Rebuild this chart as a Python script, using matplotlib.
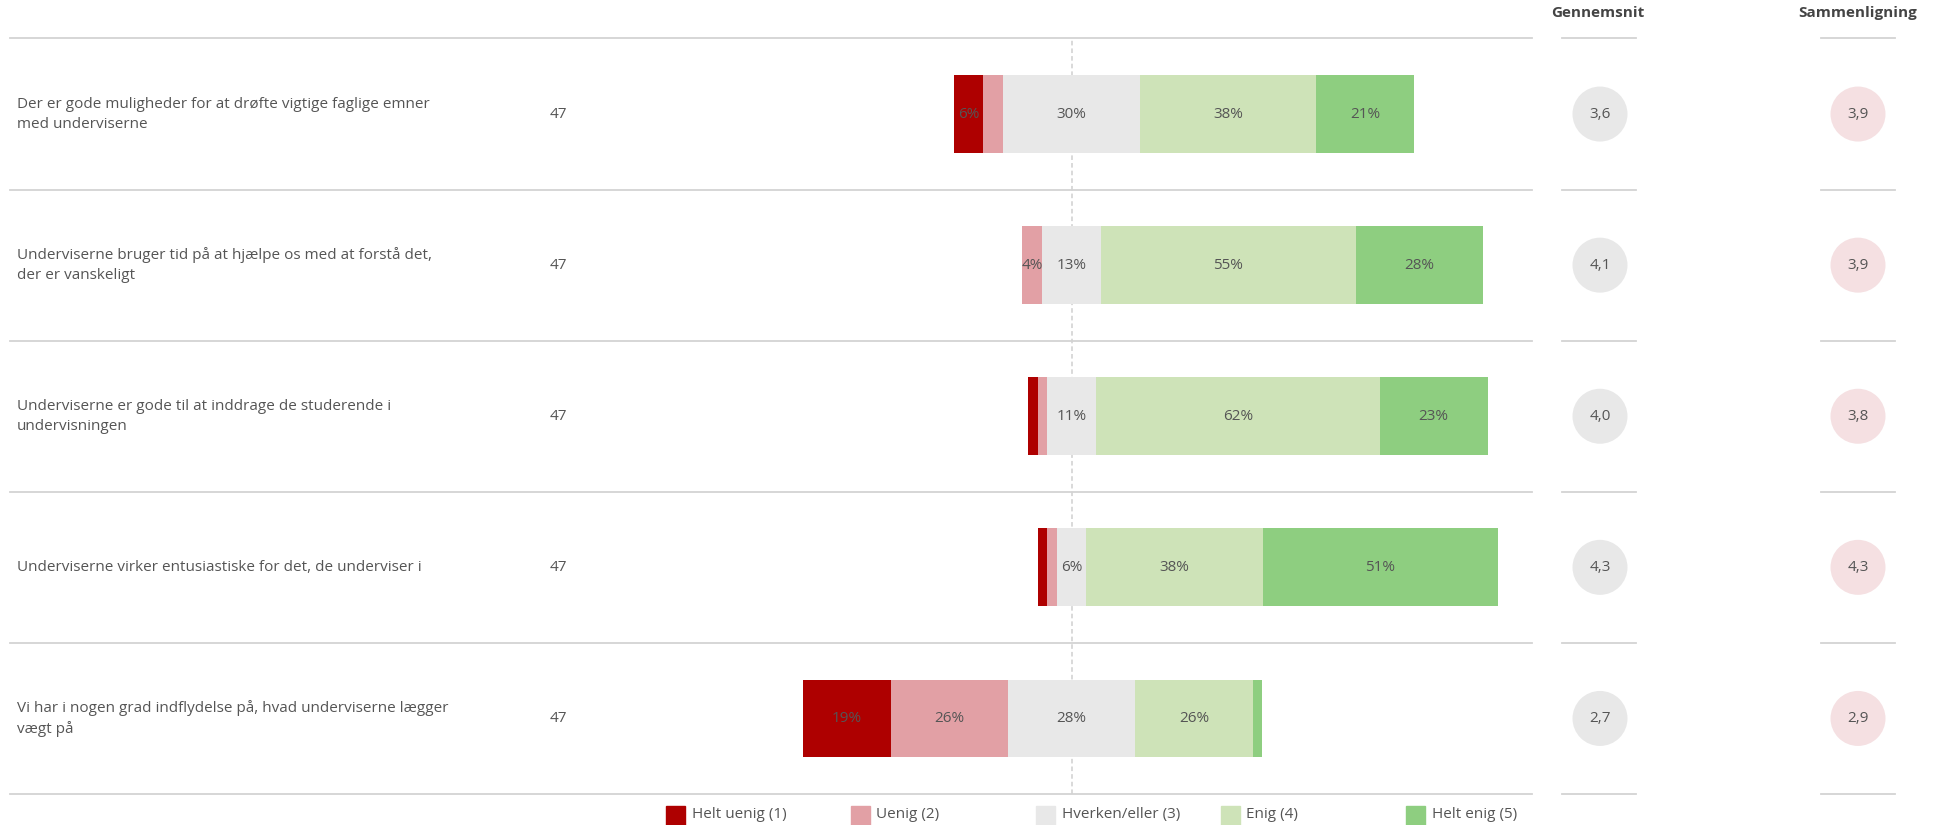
import matplotlib
matplotlib.use("Agg")
import matplotlib.pyplot as plt
from matplotlib.lines import Line2D
from matplotlib.patches import Rectangle
from matplotlib.transforms import blended_transform_factory

plt.rcParams['font.family'] = ['Open Sans', 'DejaVu Sans']

# ---------------- data ----------------
questions = [
    "Der er gode muligheder for at drøfte vigtige faglige emner\nmed underviserne",
    "Underviserne bruger tid på at hjælpe os med at forstå det,\nder er vanskeligt",
    "Underviserne er gode til at inddrage de studerende i\nundervisningen",
    "Underviserne virker entusiastiske for det, de underviser i",
    "Vi har i nogen grad indflydelse på, hvad underviserne lægger\nvægt på",
]
n_resp = [47, 47, 47, 47, 47]
categories = ["Helt uenig (1)", "Uenig (2)", "Hverken/eller (3)", "Enig (4)", "Helt enig (5)"]
helt_uenig = [6.4, 0.0, 2.1, 2.1, 19.1]
uenig = [4.3, 4.3, 2.1, 2.1, 25.5]
hverken = [29.8, 12.8, 10.6, 6.4, 27.7]
enig = [38.3, 55.3, 61.7, 38.3, 25.5]
helt_enig = [21.3, 27.7, 23.4, 51.1, 2.1]
gennemsnit = [3.6, 4.1, 4.0, 4.3, 2.7]
sammenligning = [3.9, 3.9, 3.8, 4.3, 2.9]
headers = ["Gennemsnit", "Sammenligning"]

colors = ["#AE0000", "#E2A0A5", "#E8E8E8", "#CEE3B8", "#8ECE80"]
txt_color = "#555555"
line_color = "#D3D3D3"

W, H = 1936, 825
fig = plt.figure(figsize=(W / 100, H / 100), dpi=100)

def fx(px):
    return px / W

def fy(py):
    return 1 - py / H

top_px, bot_px = 38.5, 794.0
ax = fig.add_axes([fx(611.7), fy(bot_px), fx(920), (bot_px - top_px) / H])
ax.set_xlim(-100, 100)
ax.set_ylim(4.5, -0.5)
ax.axis("off")

rows = list(range(len(questions)))
series = [helt_uenig, uenig, hverken, enig, helt_enig]
start = [-(a + b + c / 2) for a, b, c in zip(helt_uenig, uenig, hverken)]

ax.axvline(0, color="#CFCFCF", lw=1.1, ls=(0, (3, 2)), zorder=0)

left = list(start)
labelled_prev = [False] * len(rows)
for k, vals in enumerate(series):
    ax.barh(rows, vals, left=left, height=0.515, color=colors[k], zorder=2)
    for i, v in enumerate(vals):
        show = v >= 3.5 and not (v < 5 and labelled_prev[i])
        if show:
            ax.text(left[i] + v / 2, i, f"{int(v + 0.5)}%", ha="center", va="center",
                    fontsize=11, color=txt_color, zorder=3)
        labelled_prev[i] = show
    left = [l + v for l, v in zip(left, vals)]

tr = blended_transform_factory(fig.transFigure, ax.transData)

# separators
for b in [r - 0.5 for r in rows] + [rows[-1] + 0.5]:
    ax.add_line(Line2D([fx(10), fx(1532)], [b, b], transform=tr, color=line_color,
                       lw=1.3, clip_on=False, zorder=1))
    for x0, x1 in [(1562, 1636), (1821, 1895)]:
        ax.add_line(Line2D([fx(x0), fx(x1)], [b, b], transform=tr, color=line_color,
                           lw=1.3, clip_on=False, zorder=1))

# question labels and n
for i, q in enumerate(questions):
    ax.text(fx(17), i, q, transform=tr, ha="left", va="center", fontsize=11,
            color=txt_color, linespacing=1.45)
    ax.text(fx(558), i, str(n_resp[i]), transform=tr, ha="center", va="center",
            fontsize=11, color=txt_color)

# mean columns
for cx, vals, col in [(1600, gennemsnit, "#E8E8E8"), (1858, sammenligning, "#F5E0E2")]:
    axm = fig.add_axes([fx(cx - 40), fy(bot_px), fx(80), (bot_px - top_px) / H], sharey=ax)
    axm.set_xlim(-1, 1)
    axm.axis("off")
    d_pt = 55 * 72 / 100
    axm.scatter([0] * len(vals), rows, s=d_pt ** 2, color=col, edgecolors="none", zorder=2)
    for i, v in enumerate(vals):
        axm.text(0, i, f"{v:.1f}".replace(".", ","), ha="center", va="center",
                 fontsize=11, color=txt_color, zorder=3)

for cx, h in zip([1598, 1858], headers):
    fig.text(fx(cx), fy(13), h, ha="center", va="center", fontsize=11,
             fontweight="bold", color="#444444")

# legend
for k, (name, col) in enumerate(zip(categories, colors)):
    x0 = 665.5 + k * 185
    fig.add_artist(Rectangle((fx(x0), fy(824.5)), fx(19), 19 / H, color=col,
                             transform=fig.transFigure))
    fig.text(fx(x0 + 26), fy(814.5), name, ha="left", va="center", fontsize=11,
             color=txt_color)

fig.savefig("out.png", dpi=100)
